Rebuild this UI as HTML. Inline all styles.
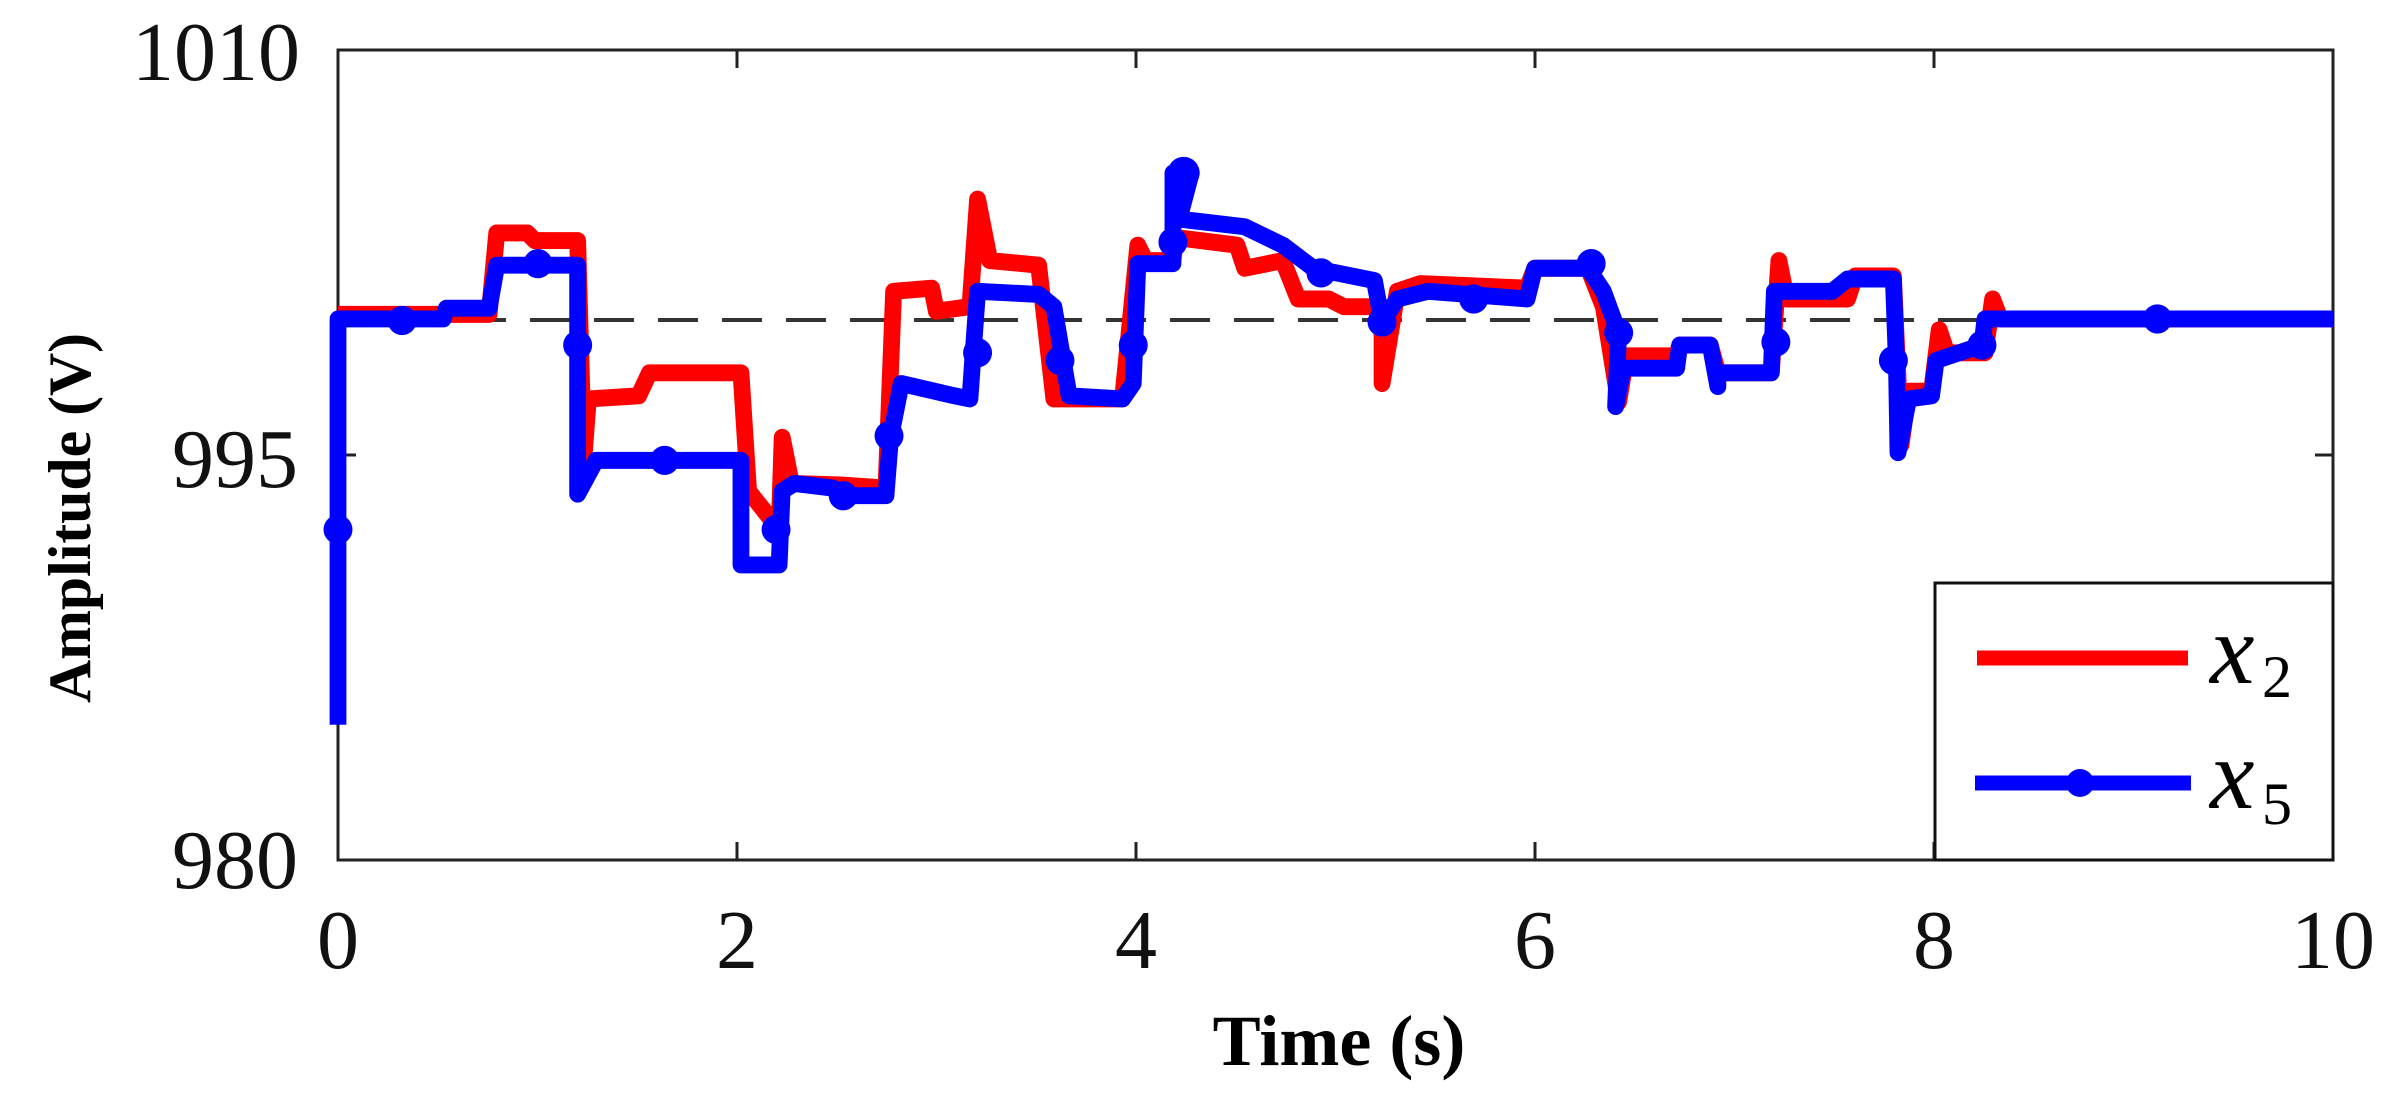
<!DOCTYPE html>
<html><head><style>body{margin:0;background:#fff}</style></head><body>
<svg width="2395" height="1102" xmlns="http://www.w3.org/2000/svg" font-family="'Liberation Serif',serif">
<rect x="338" y="50" width="1995" height="810" fill="#fff" stroke="#222" stroke-width="3"/>
<g stroke="#222" stroke-width="3">
<line x1="338" y1="455" x2="356" y2="455"/><line x1="2333" y1="455" x2="2315" y2="455"/>
<line x1="737" y1="860" x2="737" y2="842"/><line x1="1136" y1="860" x2="1136" y2="842"/><line x1="1535" y1="860" x2="1535" y2="842"/><line x1="1934" y1="860" x2="1934" y2="842"/>
<line x1="737" y1="50" x2="737" y2="68"/><line x1="1136" y1="50" x2="1136" y2="68"/><line x1="1535" y1="50" x2="1535" y2="68"/><line x1="1934" y1="50" x2="1934" y2="68"/>
</g>
<line x1="338" y1="320" x2="2333" y2="320" stroke="#333" stroke-width="4" stroke-dasharray="40,24"/>
<g transform="translate(338,50) scale(1.5264,1.537) translate(-221,-33)">
<polyline fill="none" stroke="#f00" stroke-width="11" stroke-linejoin="round" points="221,205 320,205 325,152 345,152 350,157 378,157 382,300 385,260 418,258 425,243 485,243 490,320 510,345 512,285 518,315 550,316 580,318 585,190 610,188 613,203 635,200 640,130 648,170 680,173 690,260 735,260 745,160 750,170 768,170 770,155 810,160 815,175 840,170 850,195 870,195 880,200 905,200 905,250 915,190 930,185 1000,188 1005,175 1040,175 1050,200 1060,262 1065,232 1098,232 1100,225 1120,225 1125,243 1160,243 1165,170 1170,195 1210,195 1215,180 1240,180 1245,290 1250,255 1265,255 1270,215 1275,230 1300,230 1305,195 1310,208 1528,208"/>
<polyline fill="none" stroke="#00f" stroke-width="11" stroke-linejoin="round" points="221,472 221,208 290,208 292,201 320,201 325,173 378,173 378,322 390,300 485,300 485,368 510,368 512,320 520,315 545,318 555,323 580,323 583,285 590,250 625,258 635,260 640,190 680,192 690,200 700,258 735,260 742,250 745,172 768,172 768,113 780,113 772,143 815,148 840,160 860,175 900,183 905,210 915,195 935,190 1000,195 1005,175 1040,175 1050,190 1060,217 1058,265 1063,240 1098,240 1100,225 1120,225 1125,252 1125,243 1160,243 1162,190 1200,190 1210,182 1240,182 1242,237 1243,295 1250,260 1265,258 1268,235 1298,225 1300,208 1528,208"/>
<g fill="#00f">
<circle cx="221" cy="345" r="9.5"/><circle cx="263" cy="209" r="9.5"/><circle cx="352" cy="172" r="9.5"/><circle cx="378" cy="225" r="9.5"/><circle cx="435" cy="300" r="9.5"/><circle cx="508" cy="345" r="9.5"/><circle cx="552" cy="323" r="9.5"/><circle cx="582" cy="284" r="9.5"/><circle cx="640" cy="230" r="9.5"/><circle cx="694" cy="235" r="9.5"/><circle cx="742" cy="225" r="9.5"/><circle cx="775" cy="113" r="10.5"/><circle cx="768" cy="158" r="9.5"/><circle cx="865" cy="178" r="9.5"/><circle cx="905" cy="210" r="9.5"/><circle cx="965" cy="195" r="9.5"/><circle cx="1042" cy="172" r="9.5"/><circle cx="1060" cy="217" r="9.5"/><circle cx="1163" cy="223" r="9.5"/><circle cx="1240" cy="235" r="9.5"/><circle cx="1298" cy="225" r="9.5"/><circle cx="1413" cy="208" r="9.5"/>
</g>
</g>
<rect x="1935" y="583" width="398" height="277" fill="#fff" stroke="#111" stroke-width="3"/>
<line x1="1977" y1="658" x2="2188" y2="658" stroke="#f00" stroke-width="15"/>
<line x1="1975" y1="783" x2="2191" y2="783" stroke="#00f" stroke-width="15"/>
<circle cx="2080" cy="783" r="14" fill="#00f"/>
<text x="2210" y="683" font-size="100" font-style="italic">x</text><text x="2262" y="697" font-size="60">2</text>
<text x="2210" y="808" font-size="100" font-style="italic">x</text><text x="2262" y="824" font-size="60">5</text>
<g font-size="84" fill="#111">
<text x="300" y="80" text-anchor="end">1010</text>
<text x="298" y="487" text-anchor="end">995</text>
<text x="298" y="888" text-anchor="end">980</text>
<text x="338" y="968" text-anchor="middle">0</text>
<text x="737" y="968" text-anchor="middle">2</text>
<text x="1136" y="968" text-anchor="middle">4</text>
<text x="1535" y="968" text-anchor="middle">6</text>
<text x="1934" y="968" text-anchor="middle">8</text>
<text x="2333" y="968" text-anchor="middle">10</text>
</g>
<text x="1339" y="1065" font-size="72" font-weight="bold" text-anchor="middle">Time (s)</text>
<text transform="translate(90,518) rotate(-90)" font-size="60" font-weight="bold" text-anchor="middle" textLength="370" lengthAdjust="spacingAndGlyphs">Amplitude (V)</text>
</svg>
</body></html>
